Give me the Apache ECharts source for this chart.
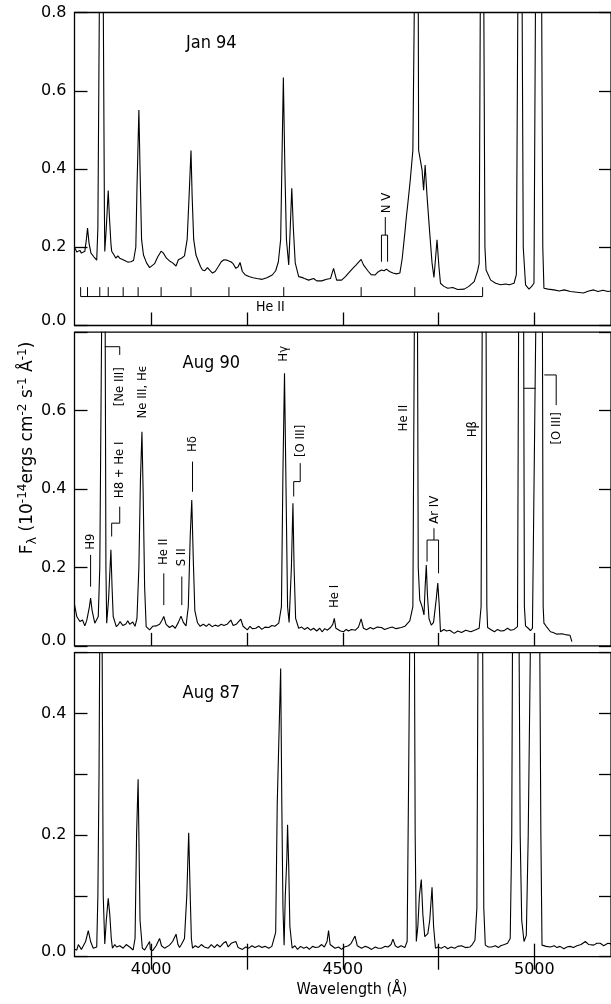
<!DOCTYPE html>
<html><head><meta charset="utf-8">
<script src="https://cdn.jsdelivr.net/npm/echarts@6/dist/echarts.min.js"></script>
<style>html,body{margin:0;padding:0;background:#fff;}#c{width:611px;height:1004px;}</style>
</head><body><div id="c"></div>
<script>
// ---------------- DATA (wavelength in Å, flux in 1e-14 erg cm^-2 s^-1 Å^-1) ----------------
const panelNames = ['Jan 94', 'Aug 90', 'Aug 87'];
const xTickValues = [4000, 4250, 4500, 4750, 5000];
const xLabelValues = [4000, 4500, 5000];
const yMaxes = [0.8, 0.8, 0.5];
const yIntervals = [0.2, 0.2, 0.1];
const yLabelValues = [[0, 0.2, 0.4, 0.6, 0.8], [0, 0.2, 0.4, 0.6], [0, 0.2, 0.4]];

const jan94 = [[3800,0.200],[3803,0.198],[3806,0.188],[3810,0.19],[3814,0.192],[3818,0.185],[3822,0.186],[3827,0.19],[3831,0.22],[3834,0.249],[3838,0.21],[3843,0.185],[3851,0.175],[3858,0.167],[3861,0.25],[3865,0.84],[3870,1.6],[3875,0.84],[3878,0.3],[3879,0.189],[3883,0.25],[3888,0.345],[3891,0.28],[3895,0.21],[3897,0.19],[3902,0.182],[3908,0.172],[3913,0.178],[3918,0.172],[3923,0.175],[3931,0.166],[3939,0.162],[3947,0.163],[3954,0.166],[3960,0.2],[3963,0.35],[3968,0.551],[3971,0.4],[3975,0.22],[3980,0.18],[3988,0.16],[3996,0.148],[4001,0.145],[4009,0.158],[4017,0.175],[4026,0.19],[4032,0.185],[4040,0.172],[4048,0.165],[4056,0.16],[4065,0.152],[4071,0.168],[4079,0.172],[4087,0.178],[4094,0.22],[4099,0.33],[4104,0.447],[4107,0.33],[4111,0.22],[4117,0.18],[4123,0.165],[4129,0.15],[4134,0.142],[4140,0.14],[4147,0.148],[4154,0.14],[4160,0.134],[4167,0.138],[4175,0.15],[4183,0.163],[4190,0.168],[4198,0.167],[4208,0.163],[4214,0.158],[4221,0.146],[4227,0.15],[4232,0.161],[4238,0.138],[4245,0.13],[4255,0.125],[4266,0.122],[4276,0.12],[4290,0.118],[4302,0.122],[4316,0.129],[4325,0.14],[4332,0.163],[4338,0.22],[4341,0.4],[4345,0.634],[4349,0.4],[4353,0.22],[4359,0.155],[4363,0.25],[4367,0.351],[4371,0.25],[4376,0.16],[4385,0.125],[4393,0.123],[4400,0.12],[4411,0.116],[4424,0.12],[4432,0.114],[4445,0.114],[4458,0.118],[4468,0.12],[4476,0.146],[4484,0.116],[4497,0.116],[4507,0.125],[4515,0.134],[4525,0.145],[4535,0.155],[4548,0.169],[4554,0.155],[4559,0.15],[4567,0.138],[4574,0.13],[4584,0.129],[4592,0.137],[4601,0.142],[4608,0.14],[4614,0.144],[4622,0.138],[4631,0.134],[4640,0.132],[4649,0.134],[4655,0.17],[4662,0.236],[4666,0.278],[4670,0.313],[4676,0.37],[4683,0.448],[4687,0.84],[4692,2.0],[4697,0.84],[4698,0.448],[4703,0.42],[4707,0.397],[4711,0.346],[4715,0.41],[4720,0.33],[4727,0.236],[4733,0.16],[4738,0.123],[4742,0.17],[4746,0.219],[4751,0.15],[4755,0.108],[4764,0.1],[4774,0.095],[4787,0.097],[4800,0.092],[4817,0.093],[4829,0.1],[4843,0.112],[4852,0.14],[4856,0.159],[4859,0.84],[4864,3.0],[4868,0.84],[4871,0.2],[4874,0.142],[4886,0.116],[4899,0.108],[4912,0.104],[4925,0.106],[4935,0.104],[4947,0.108],[4953,0.13],[4957,0.84],[4962,4.0],[4968,0.84],[4971,0.2],[4977,0.104],[4986,0.093],[4993,0.1],[4999,0.108],[5003,0.84],[5011,10],[5019,0.84],[5022,0.2],[5025,0.095],[5036,0.093],[5051,0.091],[5065,0.088],[5078,0.091],[5094,0.087],[5111,0.085],[5128,0.083],[5142,0.088],[5155,0.091],[5166,0.087],[5179,0.09],[5192,0.087],[5200,0.088]];

const aug90 = [[3800,0.105],[3806,0.075],[3810,0.07],[3814,0.062],[3821,0.066],[3827,0.051],[3832,0.065],[3839,0.1],[3842,0.122],[3846,0.09],[3853,0.058],[3862,0.075],[3866,0.2],[3871,0.84],[3875,2.0],[3880,0.84],[3882,0.2],[3884,0.058],[3889,0.12],[3895,0.245],[3898,0.15],[3901,0.075],[3909,0.049],[3915,0.055],[3919,0.062],[3926,0.052],[3934,0.056],[3939,0.064],[3944,0.055],[3952,0.061],[3958,0.05],[3963,0.07],[3968,0.2],[3972,0.42],[3976,0.546],[3979,0.4],[3983,0.15],[3987,0.049],[3996,0.041],[4004,0.05],[4013,0.051],[4022,0.055],[4028,0.065],[4033,0.075],[4039,0.055],[4048,0.047],[4056,0.052],[4063,0.045],[4071,0.06],[4078,0.076],[4084,0.06],[4091,0.051],[4097,0.1],[4102,0.28],[4106,0.372],[4110,0.22],[4114,0.09],[4121,0.059],[4128,0.05],[4136,0.055],[4144,0.05],[4151,0.056],[4159,0.049],[4167,0.053],[4175,0.05],[4183,0.055],[4190,0.052],[4198,0.055],[4208,0.066],[4214,0.052],[4222,0.055],[4227,0.05],[4234,0.068],[4240,0.05],[4245,0.055],[4251,0.041],[4258,0.05],[4264,0.044],[4273,0.045],[4281,0.05],[4289,0.042],[4297,0.048],[4307,0.047],[4315,0.052],[4323,0.05],[4333,0.058],[4340,0.1],[4344,0.45],[4348,0.695],[4352,0.4],[4356,0.1],[4360,0.06],[4366,0.2],[4370,0.364],[4373,0.2],[4377,0.07],[4385,0.045],[4393,0.048],[4400,0.042],[4408,0.047],[4416,0.04],[4424,0.045],[4432,0.038],[4440,0.045],[4446,0.036],[4453,0.044],[4460,0.04],[4468,0.047],[4474,0.055],[4478,0.07],[4482,0.045],[4486,0.05],[4494,0.038],[4502,0.036],[4509,0.042],[4515,0.038],[4523,0.042],[4533,0.04],[4541,0.048],[4548,0.069],[4554,0.045],[4562,0.041],[4572,0.047],[4580,0.043],[4590,0.048],[4601,0.047],[4609,0.042],[4618,0.045],[4629,0.048],[4639,0.044],[4653,0.047],[4662,0.05],[4675,0.064],[4683,0.1],[4687,0.84],[4691,2.0],[4695,0.84],[4697,0.2],[4701,0.117],[4707,0.1],[4712,0.079],[4715,0.15],[4718,0.206],[4721,0.13],[4725,0.07],[4731,0.053],[4737,0.06],[4744,0.12],[4748,0.16],[4752,0.1],[4755,0.036],[4764,0.042],[4771,0.038],[4779,0.04],[4791,0.032],[4800,0.038],[4810,0.034],[4821,0.04],[4834,0.036],[4844,0.04],[4856,0.045],[4861,0.1],[4864,0.84],[4869,3.0],[4874,0.84],[4876,0.1],[4878,0.047],[4886,0.042],[4896,0.036],[4904,0.042],[4912,0.038],[4921,0.039],[4930,0.045],[4938,0.04],[4947,0.042],[4956,0.049],[4959,0.84],[4966,4.0],[4972,0.84],[4974,0.1],[4977,0.051],[4984,0.045],[4990,0.039],[4995,0.045],[4999,0.047],[5004,0.84],[5013,10],[5021,0.84],[5023,0.1],[5025,0.058],[5031,0.05],[5036,0.045],[5042,0.036],[5049,0.034],[5059,0.03],[5072,0.031],[5085,0.028],[5093,0.027],[5098,0.011]];

const aug87 = [[3800,0.012],[3806,0.011],[3810,0.02],[3814,0.019],[3818,0.012],[3823,0.014],[3829,0.025],[3836,0.043],[3842,0.025],[3849,0.014],[3858,0.016],[3861,0.1],[3864,0.3],[3866,0.53],[3869,1.2],[3872,0.53],[3875,0.1],[3879,0.021],[3883,0.06],[3888,0.096],[3892,0.07],[3896,0.03],[3899,0.014],[3905,0.02],[3910,0.016],[3918,0.018],[3927,0.014],[3935,0.02],[3944,0.016],[3953,0.011],[3958,0.03],[3962,0.2],[3966,0.292],[3968,0.2],[3971,0.06],[3977,0.014],[3983,0.011],[3988,0.012],[3996,0.025],[3998,0.012],[4004,0.01],[4013,0.018],[4022,0.03],[4027,0.018],[4035,0.014],[4048,0.019],[4056,0.025],[4065,0.037],[4070,0.02],[4074,0.015],[4079,0.02],[4087,0.03],[4093,0.1],[4098,0.204],[4102,0.1],[4105,0.03],[4108,0.014],[4115,0.018],[4123,0.015],[4131,0.02],[4139,0.016],[4143,0.019],[4149,0.014],[4157,0.02],[4165,0.015],[4172,0.02],[4180,0.016],[4188,0.022],[4195,0.025],[4201,0.016],[4209,0.022],[4221,0.025],[4227,0.015],[4238,0.012],[4247,0.016],[4255,0.014],[4263,0.018],[4271,0.015],[4281,0.018],[4289,0.015],[4297,0.017],[4307,0.014],[4315,0.017],[4320,0.019],[4325,0.04],[4329,0.25],[4333,0.35],[4338,0.474],[4341,0.25],[4344,0.08],[4347,0.019],[4350,0.1],[4354,0.16],[4356,0.217],[4359,0.15],[4362,0.05],[4368,0.014],[4375,0.018],[4382,0.012],[4390,0.017],[4398,0.014],[4406,0.016],[4413,0.012],[4421,0.017],[4429,0.015],[4437,0.016],[4445,0.02],[4452,0.016],[4459,0.025],[4463,0.043],[4467,0.02],[4471,0.018],[4480,0.014],[4489,0.016],[4497,0.012],[4504,0.016],[4515,0.018],[4522,0.022],[4532,0.034],[4538,0.018],[4549,0.014],[4559,0.017],[4567,0.015],[4575,0.012],[4585,0.016],[4592,0.014],[4601,0.014],[4611,0.017],[4618,0.016],[4626,0.02],[4631,0.029],[4637,0.018],[4644,0.015],[4652,0.018],[4662,0.015],[4668,0.025],[4672,0.3],[4675,0.53],[4681,2.0],[4687,0.53],[4689,0.2],[4692,0.025],[4696,0.05],[4700,0.1],[4705,0.127],[4709,0.07],[4714,0.033],[4718,0.035],[4722,0.038],[4727,0.06],[4733,0.114],[4737,0.05],[4742,0.014],[4748,0.016],[4757,0.014],[4766,0.017],[4774,0.013],[4783,0.016],[4792,0.014],[4800,0.017],[4810,0.018],[4820,0.015],[4832,0.016],[4838,0.02],[4845,0.027],[4850,0.08],[4853,0.53],[4859,3.0],[4865,0.53],[4868,0.08],[4872,0.019],[4880,0.016],[4889,0.016],[4898,0.018],[4906,0.015],[4912,0.018],[4922,0.02],[4930,0.022],[4937,0.03],[4941,0.2],[4943,0.53],[4951,4.0],[4960,0.53],[4963,0.2],[4967,0.06],[4973,0.025],[4979,0.035],[4984,0.2],[4990,0.53],[5002,10],[5014,0.53],[5017,0.2],[5020,0.019],[5031,0.017],[5042,0.016],[5052,0.018],[5059,0.015],[5067,0.017],[5077,0.013],[5085,0.016],[5093,0.017],[5102,0.015],[5111,0.018],[5122,0.02],[5133,0.025],[5142,0.02],[5155,0.019],[5163,0.022],[5172,0.022],[5181,0.018],[5192,0.022],[5200,0.021]];

// Line identifications (text, wavelength, flux at label centre)
const titlePos = [[4157, 0.722], [4157, 0.721], [4157, 0.433]];
const heIIPickering = [3816, 3834, 3866, 3888, 3927, 3966, 4026, 4104, 4203, 4346, 4548, 4688, 4865];
const heIIBarFlux = [0.074, 0.098];
const heIILabel = ['He II', 4311, 0.047];
const nvLabel = ['N V', 4614, 0.313];
const nvLeaders = [[[4611, 0.277], [4611, 0.231]], [[4601, 0.163], [4601, 0.231], [4617, 0.231], [4617, 0.163]]];
const aug90Labels = [
  ['H9', 3842, 0.266], ['H8 + He I', 3918, 0.449], ['[Ne III]', 3918, 0.661], ['Ne III, H\u03f5', 3978, 0.648],
  ['He II', 4033, 0.24], ['S II', 4080, 0.226], ['H\u03b4', 4108, 0.515], ['H\u03b3', 4346, 0.745],
  ['[O III]', 4389, 0.523], ['He I', 4480, 0.126], ['He II', 4660, 0.581], ['Ar IV', 4740, 0.347],
  ['H\u03b2', 4839, 0.553], ['[O III]', 5057, 0.555]
];
const aug90Leaders = [
  [[3842, 0.232], [3842, 0.151]],
  [[3918, 0.355], [3918, 0.313], [3897, 0.313], [3897, 0.279]],
  [[3918, 0.742], [3918, 0.763], [3879, 0.763]],
  [[4033, 0.185], [4033, 0.104]],
  [[4080, 0.177], [4080, 0.104]],
  [[4108, 0.47], [4108, 0.393]],
  [[4389, 0.466], [4389, 0.419], [4372, 0.419], [4372, 0.381]],
  [[4738, 0.30], [4738, 0.27]],
  [[4720, 0.215], [4720, 0.27], [4750, 0.27], [4750, 0.185]],
  [[4973, 0.657], [5003, 0.657]],
  [[5026, 0.691], [5057, 0.691], [5057, 0.614]]
];

// ---------------- CHART ----------------
const chart = echarts.init(document.getElementById('c'), null, {renderer: 'canvas'});
const FONT = "'DejaVu Sans', sans-serif";
const COND = "'DejaVu Sans Condensed', 'Liberation Sans Narrow', 'DejaVu Sans', sans-serif";
const grids = [
  {left: 74.5, right: -3.2, top: 12.5, height: 313},
  {left: 74.5, right: -3.2, top: 332.2, height: 313.7},
  {left: 74.5, right: -3.2, top: 652.7, height: 304}
].map(g => Object.assign(g, {show: true, borderColor: '#000', borderWidth: 1.3, backgroundColor: 'transparent'}));

function xAxisFor(i, pos, labels) {
  return {
    type: 'value', gridIndex: i, position: pos, min: 3800, max: 5200,
    axisLine: {show: false}, splitLine: {show: false},
    axisTick: {show: true, inside: true, length: 13, customValues: xTickValues, lineStyle: {color: '#000', width: 1.3}},
    axisLabel: labels ? {show: true, customValues: xLabelValues, color: '#000', fontFamily: FONT, fontSize: 16, margin: 5,
      formatter: v => String(Math.round(v))} : {show: false}
  };
}
function yAxisFor(i, pos) {
  const lbls = yLabelValues[i];
  return {
    type: 'value', gridIndex: i, position: pos, min: 0, max: yMaxes[i], interval: yIntervals[i],
    axisLine: {show: false}, splitLine: {show: false},
    axisTick: {show: true, inside: true, length: pos === 'left' ? 13 : 12, lineStyle: {color: '#000', width: 1.3}},
    axisLabel: pos === 'left' ? {
      show: true, color: '#000', fontFamily: FONT, fontSize: 16, margin: 8,
      formatter: v => {
        const ok = lbls.some(l => Math.abs(l - v) < 1e-6);
        if (!ok) return '';
        return Math.abs(v) < 1e-6 ? '{z|0.0}' : v.toFixed(1);
      },
      rich: {z: {fontFamily: FONT, fontSize: 16, color: '#000', padding: [0, 0, 10, 0]}}
    } : {show: false}
  };
}

const option = {
  animation: false,
  backgroundColor: '#fff',
  grid: grids,
  xAxis: [xAxisFor(0, 'bottom', false), xAxisFor(1, 'bottom', false), xAxisFor(2, 'bottom', true), xAxisFor(2, 'top', false)],
  yAxis: [yAxisFor(0, 'left'), yAxisFor(0, 'right'), yAxisFor(1, 'left'), yAxisFor(1, 'right'), yAxisFor(2, 'left'), yAxisFor(2, 'right')],
  series: [jan94, aug90, aug87].map((d, i) => ({
    name: panelNames[i], type: 'line', xAxisIndex: i, yAxisIndex: 2 * i, data: d,
    showSymbol: false, symbol: 'none', clip: true,
    lineStyle: {color: '#000', width: 1.1}
  }))
};
chart.setOption(option);

// ---------- annotations placed through the axes ----------
function P(i, lam, f) { return chart.convertToPixel({xAxisIndex: i, yAxisIndex: 2 * i}, [lam, f]); }
const g = [];
function poly(i, pts) {
  g.push({type: 'polyline', silent: true, shape: {points: pts.map(p => P(i, p[0], p[1]))}, style: {stroke: '#000', lineWidth: 1, fill: null}});
}
function txt(i, t, lam, f, rot, size, fam) {
  const p = P(i, lam, f);
  g.push({type: 'text', silent: true, x: p[0], y: p[1], rotation: rot ? Math.PI / 2 : 0,
    style: {text: t, fill: '#000', font: size + 'px ' + fam, align: 'center', verticalAlign: 'middle'}});
}
panelNames.forEach((n, i) => txt(i, n, titlePos[i][0], titlePos[i][1], false, 18, COND));
// He II Pickering series ticks (Jan 94)
poly(0, [[heIIPickering[0], heIIBarFlux[0]], [heIIPickering[heIIPickering.length - 1], heIIBarFlux[0]]]);
heIIPickering.forEach(l => poly(0, [[l, heIIBarFlux[0]], [l, heIIBarFlux[1]]]));
txt(0, heIILabel[0], heIILabel[1], heIILabel[2], false, 14, COND);
txt(0, nvLabel[0], nvLabel[1], nvLabel[2], true, 13, COND);
nvLeaders.forEach(l => poly(0, l));
aug90Labels.forEach(l => txt(1, l[0], l[1], l[2], true, 13, COND));
aug90Leaders.forEach(l => poly(1, l));
// axis titles
g.push({type: 'text', silent: true, x: 352, y: 990,
  style: {text: 'Wavelength (\u00c5)', fill: '#000', font: '16px ' + COND, align: 'center', verticalAlign: 'middle'}});
g.push({type: 'text', silent: true, x: 28, y: 448, rotation: Math.PI / 2,
  style: {
    text: '{m|F}{s|\u03bb}{m| (10}{p|-14}{m|ergs cm}{p|-2}{m| s}{p|-1}{m| \u00c5}{p|-1}{m|)}',
    align: 'center', verticalAlign: 'middle',
    rich: {
      m: {fontFamily: FONT, fontSize: 17, lineHeight: 22, fill: '#000'},
      p: {fontFamily: FONT, fontSize: 12, lineHeight: 12, verticalAlign: 'top', fill: '#000'},
      s: {fontFamily: FONT, fontSize: 13, lineHeight: 12, verticalAlign: 'bottom', fill: '#000'}
    }
  }});
chart.setOption({graphic: g});
</script></body></html>
